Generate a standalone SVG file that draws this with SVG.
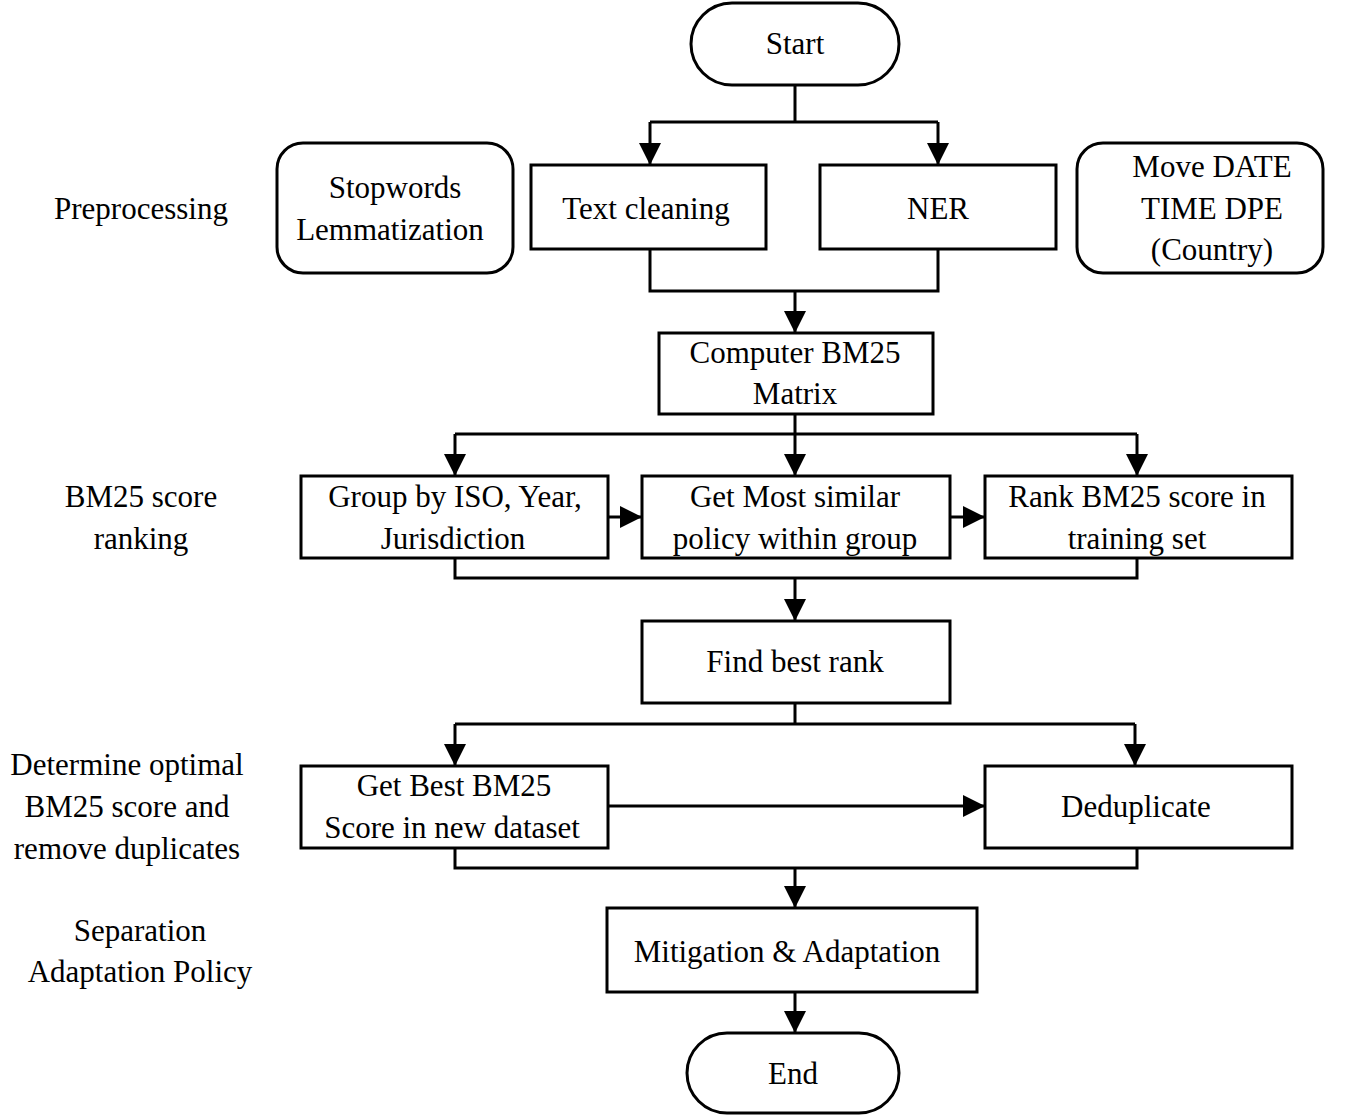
<svg xmlns="http://www.w3.org/2000/svg" width="1352" height="1118" viewBox="0 0 1352 1118">
<style>
.b{fill:#fff;stroke:#000;stroke-width:3}
.t{font-family:"Liberation Serif",serif;font-size:31px;text-anchor:middle;fill:#000}
.c{fill:none;stroke:#000;stroke-width:3}
</style>
<defs><marker id="a" markerWidth="8" markerHeight="8" refX="7" refY="4" orient="auto" markerUnits="userSpaceOnUse" viewBox="0 0 8 8"><path d="M0,0L8,4L0,8z"/></marker>
<marker id="h" viewBox="0 0 10 10" refX="10" refY="5" markerWidth="22" markerHeight="22" markerUnits="userSpaceOnUse" orient="auto"><path d="M0,0L10,5L0,10z" fill="#000"/></marker></defs>
<rect width="1352" height="1118" fill="#fff"/>
<g id="connectors" class="c">
<path d="M795,85V122M650,122H938"/><path d="M650,122V165" marker-end="url(#h)"/><path d="M938,122V165" marker-end="url(#h)"/>
<path d="M650,249V291H938V249M795,291V333" marker-end="url(#h)"/>
<path d="M795,414V434M455,434H1137"/><path d="M455,434V476" marker-end="url(#h)"/><path d="M795,434V476" marker-end="url(#h)"/><path d="M1137,434V476" marker-end="url(#h)"/>
<path d="M608,517H642" marker-end="url(#h)"/><path d="M950,517H985" marker-end="url(#h)"/>
<path d="M455,558V578H1137V558M795,578V621" marker-end="url(#h)"/>
<path d="M795,703V724M455,724H1135"/><path d="M455,724V766" marker-end="url(#h)"/><path d="M1135,724V766" marker-end="url(#h)"/>
<path d="M608,806H985" marker-end="url(#h)"/>
<path d="M455,848V868H1137V848M795,868V908" marker-end="url(#h)"/>
<path d="M795,992V1033" marker-end="url(#h)"/>
</g>
<g id="start"><rect class="b" x="691" y="3" width="208" height="82" rx="41"/><text class="t" x="795" y="54">Start</text></g>
<g id="stop"><rect class="b" x="277" y="143" width="236" height="130" rx="26"/><text class="t" x="395" y="198">Stopwords</text><text class="t" x="390" y="240">Lemmatization</text></g>
<g id="clean"><rect class="b" x="531" y="165" width="235" height="84"/><text class="t" x="646" y="219">Text cleaning</text></g>
<g id="ner"><rect class="b" x="820" y="165" width="236" height="84"/><text class="t" x="938" y="219">NER</text></g>
<g id="move"><rect class="b" x="1077" y="143" width="246" height="130" rx="26"/><text class="t" x="1212" y="177">Move DATE</text><text class="t" x="1212" y="219">TIME DPE</text><text class="t" x="1212" y="260">(Country)</text></g>
<g id="bm25"><rect class="b" x="659" y="333" width="274" height="81"/><text class="t" x="795" y="363">Computer BM25</text><text class="t" x="795" y="404">Matrix</text></g>
<g id="group"><rect class="b" x="301" y="476" width="307" height="82"/><text class="t" x="455" y="507">Group by ISO, Year,</text><text class="t" x="453" y="549">Jurisdiction</text></g>
<g id="most"><rect class="b" x="642" y="476" width="308" height="82"/><text class="t" x="795" y="507">Get Most similar</text><text class="t" x="795" y="549">policy within group</text></g>
<g id="rank"><rect class="b" x="985" y="476" width="307" height="82"/><text class="t" x="1137" y="507">Rank BM25 score in</text><text class="t" x="1137" y="549">training set</text></g>
<g id="find"><rect class="b" x="642" y="621" width="308" height="82"/><text class="t" x="795" y="672">Find best rank</text></g>
<g id="best"><rect class="b" x="301" y="766" width="307" height="82"/><text class="t" x="454" y="796">Get Best BM25</text><text class="t" x="452" y="838">Score in new dataset</text></g>
<g id="dedup"><rect class="b" x="985" y="766" width="307" height="82"/><text class="t" x="1136" y="817">Deduplicate</text></g>
<g id="mit"><rect class="b" x="607" y="908" width="370" height="84"/><text class="t" x="787" y="962">Mitigation &amp; Adaptation</text></g>
<g id="end"><rect class="b" x="687" y="1033" width="212" height="80" rx="40"/><text class="t" x="793" y="1084">End</text></g>
<g id="labels">
<text class="t" x="141" y="219">Preprocessing</text>
<text class="t" x="141" y="507">BM25 score</text><text class="t" x="141" y="549">ranking</text>
<text class="t" x="127" y="775">Determine optimal</text><text class="t" x="127" y="817">BM25 score and</text><text class="t" x="127" y="859">remove duplicates</text>
<text class="t" x="140" y="941">Separation</text><text class="t" x="140" y="982">Adaptation Policy</text>
</g>
</svg>
